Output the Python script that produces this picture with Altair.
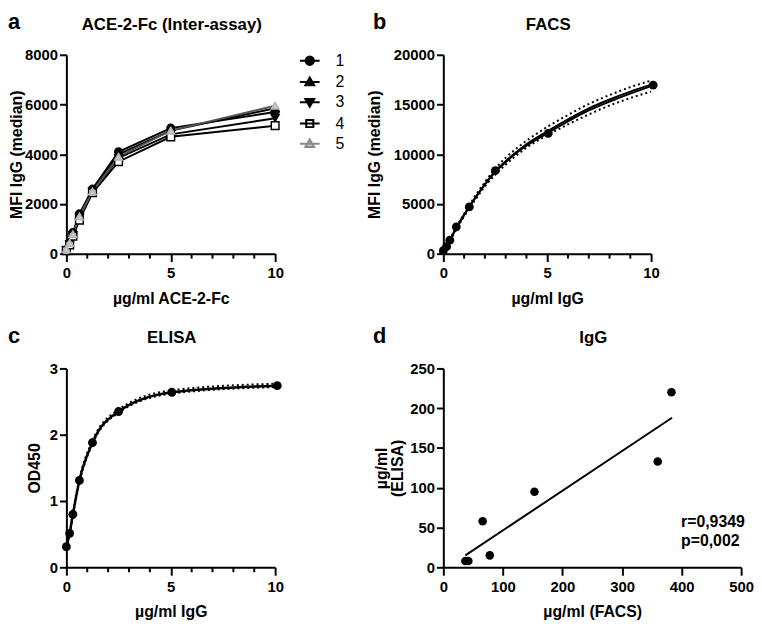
import altair as alt
import pandas as pd

FONT = "Liberation Sans"

# ---------------- data ----------------
# panel a: ACE-2-Fc inter-assay, 5 runs
conc = [0, 0.156, 0.3125, 0.625, 1.25, 2.5, 5, 10]
a_s1 = [150, 450, 850, 1600, 2600, 4100, 5050, 5700]
a_s2 = [200, 420, 800, 1550, 2550, 4000, 4950, 5850]
a_s3 = [150, 380, 750, 1450, 2500, 3850, 4800, 5450]
a_s4 = [120, 350, 700, 1350, 2450, 3700, 4700, 5150]
a_s5 = [180, 430, 780, 1500, 2500, 3900, 4950, 5950]
a_names = ["1", "2", "3", "4", "5"]
a_shapes = ["circle", "triangle-up", "triangle-down", "square", "triangle-up"]
a_fills = ["black", "black", "black", "white", "#c8c8c8"]
a_strokes = ["black", "black", "black", "black", "#b4b4b4"]
a_linecols = ["black", "black", "black", "black", "#555555"]
a_legend_strokes = ["black", "black", "black", "black", "#8a8a8a"]
a_legend_paths = [
    "M-1,0H1M-0.42,0A0.42,0.42,0,1,0,0.42,0A0.42,0.42,0,1,0,-0.42,0Z",
    "M-1,0H1M0,-0.45L0.45,0.33L-0.45,0.33Z",
    "M-1,0H1M0,0.45L0.45,-0.33L-0.45,-0.33Z",
    "M-1,0H1M-0.36,-0.36H0.36V0.36H-0.36Z",
    "M-1,0H1M0,-0.45L0.45,0.33L-0.45,0.33Z",
]

# panel b: FACS
b_x = [0, 0.156, 0.3125, 0.625, 1.25, 2.5, 5.05, 10.1]
b_y = [300, 700, 1350, 2700, 4700, 8350, 12100, 16950]
fit_x = [0, 0.5, 1, 1.5, 2, 2.5, 3, 3.5, 4, 5, 6, 7, 8, 9, 10]
b_fit1 = [0, 2100, 3900, 5500, 7000, 8300, 9300, 10200, 11000, 12300, 13500, 14600, 15500, 16300, 17000]
b_fit2 = [0, 2100, 3900, 5500, 6950, 8200, 9200, 10100, 10850, 12100, 13300, 14400, 15300, 16100, 16850]
b_upper = [0, 2200, 4000, 5700, 7200, 8550, 9650, 10550, 11350, 12750, 13950, 15050, 15950, 16750, 17400]
b_lower = [0, 1950, 3750, 5300, 6750, 7950, 8950, 9850, 10650, 11900, 13000, 14000, 14900, 15650, 16300]

# panel c: ELISA
c_x = [0, 0.156, 0.3125, 0.625, 1.25, 2.5, 5.05, 10.1]
c_y = [0.31, 0.51, 0.80, 1.31, 1.88, 2.35, 2.64, 2.74]
c_upper = [0.33, 0.53, 0.83, 1.34, 1.91, 2.38, 2.67, 2.77]
c_lower = [0.29, 0.49, 0.78, 1.28, 1.86, 2.33, 2.62, 2.72]

# panel d: correlation
d_x = [37, 42, 66, 78, 153, 360, 383]
d_y = [8, 8, 58, 15, 95, 133, 220]
d_line_x = [37, 384]
d_line_y = [15, 188]
d_stats = ["r=0,9349", "p=0,002"]
d_stats_x = [399, 399]
d_stats_y = [51, 27]

minor_x = [1, 2, 3, 4, 6, 7, 8, 9]

H = 201


def frame(xdom, ydom, xvals, yvals, xtitle, ytitle, ytx):
    xs = alt.Scale(domain=xdom, nice=False, zero=False)
    ys = alt.Scale(domain=ydom, nice=False, zero=False)
    xa = alt.Axis(title=xtitle, values=xvals, format="d", tickSize=8, labelPadding=4,
                  labelFlush=False, titleY=37)
    ya = alt.Axis(title=ytitle, values=yvals, format="d", tickSize=7, labelPadding=2,
                  labelFlush=False, titleX=ytx, titleLineHeight=16)
    return xs, ys, xa, ya


def enc(xs, ys, xa, ya):
    return dict(x=alt.X("x:Q", scale=xs, axis=xa), y=alt.Y("y:Q", scale=ys, axis=ya))


def text_layer(txt, x, y, size, align="left"):
    return alt.Chart(pd.DataFrame({"t": [txt]})).mark_text(
        font=FONT, fontSize=size, fontWeight="bold", align=align,
        baseline="alphabetic", color="black"
    ).encode(text="t:N", x=alt.value(x), y=alt.value(y))


def minor_layer(xs, xa):
    return alt.Chart(pd.DataFrame({"x": minor_x})).mark_rule(
        color="black", strokeWidth=2
    ).encode(x=alt.X("x:Q", scale=xs, axis=xa), y=alt.value(H), y2=alt.value(H + 5))


# ---------------- panel a ----------------
WA = 211
xs, ys, xa, ya = frame([0, 10], [0, 8000], [0, 5, 10], [0, 2000, 4000, 6000, 8000],
                       "µg/ml ACE-2-Fc", "MFI IgG (median)", -42)
layers_a = [minor_layer(xs, xa)]
series_a = [a_s1, a_s2, a_s3, a_s4, a_s5]
for vals, lc in zip(series_a, a_linecols):
    df = pd.DataFrame({"x": conc, "y": vals})
    layers_a.append(alt.Chart(df).mark_line(color=lc, strokeWidth=2).encode(**enc(xs, ys, xa, ya)))
for vals, shp, fc, sc in zip(series_a, a_shapes, a_fills, a_strokes):
    df = pd.DataFrame({"x": conc, "y": vals})
    layers_a.append(alt.Chart(df).mark_point(shape=shp, fill=fc, stroke=sc, strokeWidth=1.5,
                                             size=60, opacity=1, filled=True)
                    .encode(**enc(xs, ys, xa, ya)))
leg = alt.Legend(orient="none", legendX=235, legendY=-5, title=None, symbolSize=400,
                 symbolStrokeWidth=2, symbolOpacity=1, labelFont=FONT, labelFontSize=16,
                 labelFontWeight="normal", labelColor="black", labelOffset=15, rowPadding=1.5,
                 padding=0)
leg_df = pd.DataFrame({"x": conc[:5], "y": a_s1[:5], "series": a_names})
layers_a.append(
    alt.Chart(leg_df).transform_filter("false").mark_point(filled=True, strokeWidth=2, opacity=1).encode(
        **enc(xs, ys, xa, ya),
        shape=alt.Shape("series:N", scale=alt.Scale(domain=a_names, range=a_legend_paths), legend=leg),
        fill=alt.Fill("series:N", scale=alt.Scale(domain=a_names, range=a_fills), legend=leg),
        stroke=alt.Stroke("series:N", scale=alt.Scale(domain=a_names, range=a_legend_strokes), legend=leg),
    )
)
layers_a.append(text_layer("a", -59, -26, 22))
layers_a.append(text_layer("ACE-2-Fc (Inter-assay)", WA / 2 + 1, -25, 17, "center"))
panel_a = alt.layer(*layers_a).properties(width=WA, height=H)

# ---------------- panel b ----------------
WB = 210
xs, ys, xa, ya = frame([0, 10], [0, 20000], [0, 5, 10], [0, 5000, 10000, 15000, 20000],
                       "µg/ml IgG", "MFI IgG (median)", -62)
layers_b = [minor_layer(xs, xa)]
for vals in [b_upper, b_lower]:
    df = pd.DataFrame({"x": fit_x, "y": vals})
    layers_b.append(alt.Chart(df).mark_line(color="black", strokeWidth=2, strokeDash=[2, 3],
                                            interpolate="monotone").encode(**enc(xs, ys, xa, ya)))
for vals in [b_fit1, b_fit2]:
    df = pd.DataFrame({"x": fit_x, "y": vals})
    layers_b.append(alt.Chart(df).mark_line(color="black", strokeWidth=2,
                                            interpolate="monotone").encode(**enc(xs, ys, xa, ya)))
layers_b.append(alt.Chart(pd.DataFrame({"x": b_x, "y": b_y})).mark_circle(
    color="black", size=80, opacity=1).encode(**enc(xs, ys, xa, ya)))
layers_b.append(text_layer("b", -71, -26, 22))
layers_b.append(text_layer("FACS", WB / 2 + 1, -25, 17, "center"))
panel_b = alt.layer(*layers_b).properties(width=WB, height=H)

# ---------------- panel c ----------------
WC = 211
xs, ys, xa, ya = frame([0, 10], [0, 3], [0, 5, 10], [0, 1, 2, 3],
                       "µg/ml IgG", "OD450", -24)
layers_c = [minor_layer(xs, xa)]
for vals in [c_upper, c_lower]:
    df = pd.DataFrame({"x": c_x, "y": vals})
    layers_c.append(alt.Chart(df).mark_line(color="black", strokeWidth=2, strokeDash=[2, 3],
                                            interpolate="monotone").encode(**enc(xs, ys, xa, ya)))
layers_c.append(alt.Chart(pd.DataFrame({"x": c_x, "y": c_y})).mark_line(
    color="black", strokeWidth=2.5, interpolate="monotone").encode(**enc(xs, ys, xa, ya)))
layers_c.append(alt.Chart(pd.DataFrame({"x": c_x, "y": c_y})).mark_circle(
    color="black", size=80, opacity=1).encode(**enc(xs, ys, xa, ya)))
layers_c.append(text_layer("c", -59, -26, 22))
layers_c.append(text_layer("ELISA", WC / 2 + 1, -26, 17, "center"))
panel_c = alt.layer(*layers_c).properties(width=WC, height=H)

# ---------------- panel d ----------------
WD = 301
xs, ys, xa, ya = frame([0, 500], [0, 250], [0, 100, 200, 300, 400, 500], [0, 50, 100, 150, 200, 250],
                       "µg/ml (FACS)", ["µg/ml", "(ELISA)"], -54)
layers_d = []
layers_d.append(alt.Chart(pd.DataFrame({"x": d_line_x, "y": d_line_y})).mark_line(
    color="black", strokeWidth=2).encode(**enc(xs, ys, xa, ya)))
layers_d.append(alt.Chart(pd.DataFrame({"x": d_x, "y": d_y})).mark_circle(
    color="black", size=75, opacity=1).encode(**enc(xs, ys, xa, ya)))
layers_d.append(alt.Chart(pd.DataFrame({"x": d_stats_x, "y": d_stats_y, "t": d_stats})).mark_text(
    font=FONT, fontSize=16, fontWeight="bold", align="left", baseline="alphabetic", color="black"
).encode(**enc(xs, ys, xa, ya), text="t:N"))
layers_d.append(text_layer("d", -71, -26, 22))
layers_d.append(text_layer("IgG", WD / 2 + 1, -26, 17, "center"))
panel_d = alt.layer(*layers_d).properties(width=WD, height=H)

# with align "all" every grid cell is as wide as the widest panel (301)
chart = alt.concat(
    panel_a, panel_b, panel_c, panel_d,
    columns=2,
    spacing=alt.RowColnumber(row=116, column=80),
    bounds="flush",
    align="all",
).properties(
    padding=0, background="white"
).configure_view(stroke=None).configure_axis(
    domainColor="black", domainWidth=2, tickColor="black", tickWidth=2,
    labelFont=FONT, labelFontSize=15, labelFontWeight="bold", labelColor="black",
    titleFont=FONT, titleFontSize=16, titleFontWeight="bold", titleColor="black",
    grid=False,
)

chart.save("out.html", embed_options={"renderer": "svg", "actions": False})
